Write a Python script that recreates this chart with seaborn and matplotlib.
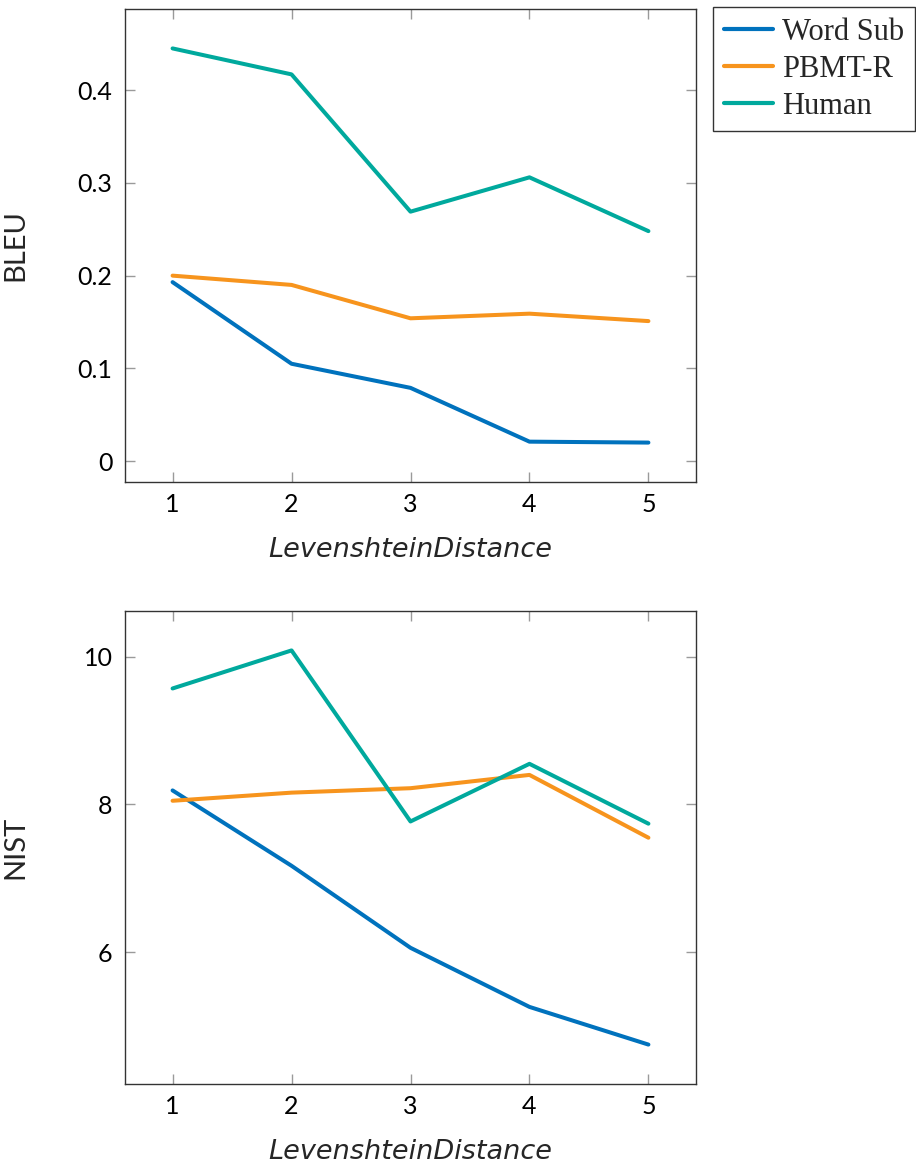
import matplotlib
matplotlib.use("Agg")
import matplotlib.pyplot as plt
import seaborn as sns
import pandas as pd

# ---- data ----
distance = [1, 2, 3, 4, 5]
methods = ["Word Sub", "PBMT-R", "Human"]
bleu_word_sub = [0.193, 0.105, 0.079, 0.021, 0.020]
bleu_pbmt_r = [0.200, 0.190, 0.154, 0.159, 0.151]
bleu_human = [0.445, 0.417, 0.269, 0.306, 0.248]
nist_word_sub = [8.19, 7.17, 6.06, 5.26, 4.75]
nist_pbmt_r = [8.05, 8.16, 8.22, 8.40, 7.55]
nist_human = [9.57, 10.085, 7.77, 8.55, 7.74]
bleu_ticks = [0, 0.1, 0.2, 0.3, 0.4]
bleu_ticklabels = ["0", "0.1", "0.2", "0.3", "0.4"]
nist_ticks = [6, 8, 10]
x_label = "LevenshteinDistance"

colors = {"Word Sub": "#0072BD", "PBMT-R": "#F7941D", "Human": "#00A99D"}

rows = []
for m, b, n in zip(methods, [bleu_word_sub, bleu_pbmt_r, bleu_human],
                   [nist_word_sub, nist_pbmt_r, nist_human]):
    for d, bv, nv in zip(distance, b, n):
        rows.append({"Distance": d, "Method": m, "BLEU": bv, "NIST": nv})
df = pd.DataFrame(rows)

sns.set_style("white")
plt.rcParams['font.family'] = ['Lato', 'DejaVu Sans']

W, H = 916, 1166
fig = plt.figure(figsize=(W / 100, H / 100), dpi=100)

def axes_rect(left, top, right, bottom):
    return [left / W, 1 - bottom / H, (right - left) / W, (bottom - top) / H]

ax1 = fig.add_axes(axes_rect(125, 9, 696, 482))
ax2 = fig.add_axes(axes_rect(125, 611, 696, 1084))

for ax, col, ticks in [(ax1, "BLEU", bleu_ticks), (ax2, "NIST", nist_ticks)]:
    sns.lineplot(data=df, x="Distance", y=col, hue="Method", hue_order=methods,
                 palette=colors, linewidth=2.9, ax=ax, legend=(ax is ax1))
    vals = df[col]
    rng = vals.max() - vals.min()
    ax.set_ylim(vals.min() - 0.1 * rng, vals.max() + 0.1 * rng)
    ax.set_xlim(0.6, 5.4)
    ax.set_xticks(distance)
    ax.set_xticklabels([str(d) for d in distance])
    ax.set_yticks(ticks)
    ax.tick_params(axis="both", which="both", direction="in", length=7, width=1,
                   color="#9a9a9a", labelsize=18, labelcolor="black",
                   top=True, right=True, bottom=True, left=True)
    ax.tick_params(axis="y", pad=9)
    ax.tick_params(axis="x", pad=8)
    for s in ax.spines.values():
        s.set_color("#333333")
        s.set_linewidth(1.0)
        s.set_visible(True)
    ax.set_xlabel(x_label, fontsize=19.5, fontstyle="oblique", family="DejaVu Sans")
    ax.set_ylabel(col, fontsize=21)
    ax.xaxis.set_label_coords(0.5, -0.116)
    ax.yaxis.set_label_coords(-0.17, 0.5)

ax1.set_yticklabels(bleu_ticklabels)
ax2.set_yticklabels([str(t) for t in nist_ticks])

handles, labels = ax1.get_legend_handles_labels()
ax1.get_legend().remove()
leg = fig.legend(handles, labels, loc="upper left",
                 bbox_to_anchor=(713 / W, 1 - 7 / H),
                 prop={"family": "Liberation Serif", "size": 22},
                 frameon=True, fancybox=False, edgecolor="black",
                 handlelength=1.6, handletextpad=0.3, labelspacing=0.26,
                 borderpad=0.35, borderaxespad=0)
leg.get_frame().set_linewidth(1.0)
for line in leg.get_lines():
    line.set_linewidth(3)

fig.savefig("out.png", dpi=100)
